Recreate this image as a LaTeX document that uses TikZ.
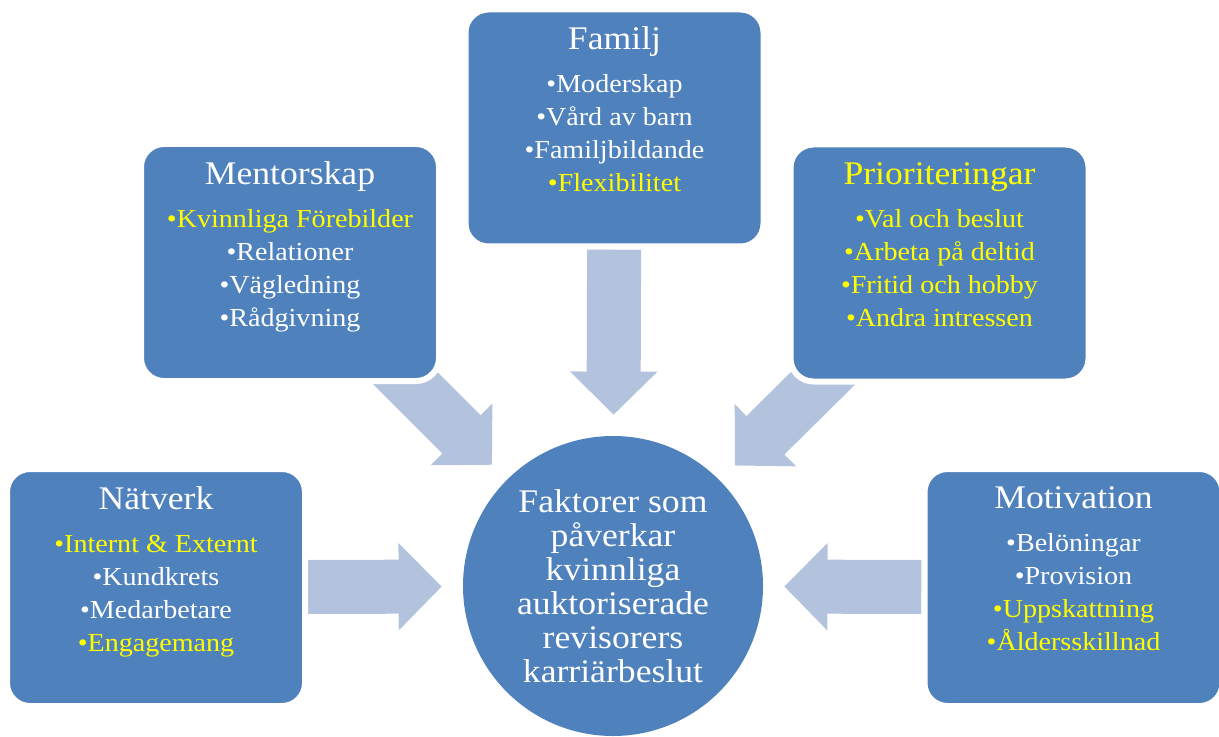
\documentclass[tikz,border=0pt]{standalone}
\usepackage{fontspec}
\setmainfont{Liberation Serif}[FakeStretch=1.08]
\usepackage{tikz}
\usetikzlibrary{positioning,arrows.meta,backgrounds}

\definecolor{boxblue}{RGB}{79,129,189}
\definecolor{arrowblue}{RGB}{179,195,222}
\definecolor{hiyellow}{RGB}{255,255,0}
\newcommand{\hl}[1]{\textcolor{hiyellow}{#1}}
\newcommand{\boxtitle}[1]{{\fontsize{16.5pt}{16.5pt}\selectfont #1}}

\begin{document}
\begin{tikzpicture}[
    x=0.5pt, y=-0.5pt,
    box/.style = {fill=boxblue, draw=white, line width=3pt, minimum width=149pt, minimum height=118.5pt, rounded corners=11.5pt, align=center, text=white, font=\fontsize{13pt}{16.5pt}\selectfont},
    core/.style = {circle, fill=boxblue, minimum size=150pt, inner sep=0pt, align=center, text=white, font=\fontsize{16.5pt}{17pt}\selectfont},
    bigarrow/.style = {draw=arrowblue, line width=27pt, -{Triangle[width=43.5pt, length=21.5pt, line width=1pt]}, shorten >=10.5pt}
]
\useasboundingbox (0,0) rectangle (1219,737);

\node (familj) [box] at (614.5,128) {\boxtitle{Familj}\\[5pt] •Moderskap\\ •Vård av barn\\ •Familjbildande\\ \hl{•Flexibilitet}\\[-3pt] \strut};
\node (mentor) [box] at (290,262.5) {\boxtitle{Mentorskap}\\[5pt] \hl{•Kvinnliga Förebilder}\\ •Relationer\\ •Vägledning\\ •Rådgivning\\[-3pt] \strut};
\node (prio) [box] at (939.5,263) {\boxtitle{\hl{Prioriteringar}}\\[5pt] \hl{•Val och beslut}\\ \hl{•Arbeta på deltid}\\ \hl{•Fritid och hobby}\\ \hl{•Andra intressen}\\[-3pt] \strut};
\node (natverk) [box] at (156,587.5) {\boxtitle{Nätverk}\\[5pt] \hl{•Internt \& Externt}\\ •Kundkrets\\ •Medarbetare\\ \hl{•Engagemang}\\[-3pt] \strut};
\node (motiv) [box] at (1073.5,587.5) {\boxtitle{Motivation}\\[5pt] •Belöningar\\ •Provision\\ \hl{•Uppskattning}\\ \hl{•Åldersskillnad}\\[-3pt] \strut};

\node (hub) [core] at (613,586) {Faktorer som\\ påverkar\\ kvinnliga\\ auktoriserade\\ revisorers\\ karriärbeslut};

% arrows behind the boxes
\begin{scope}[on background layer]
\draw[bigarrow] (familj) -- (hub);
\draw[bigarrow, shorten <=-20pt] (mentor) -- (hub);
\draw[bigarrow, shorten <=-20pt] (prio) -- (hub);
\draw[bigarrow] (natverk) -- (hub);
\draw[bigarrow] (motiv) -- (hub);
\end{scope}
\end{tikzpicture}
\end{document}
